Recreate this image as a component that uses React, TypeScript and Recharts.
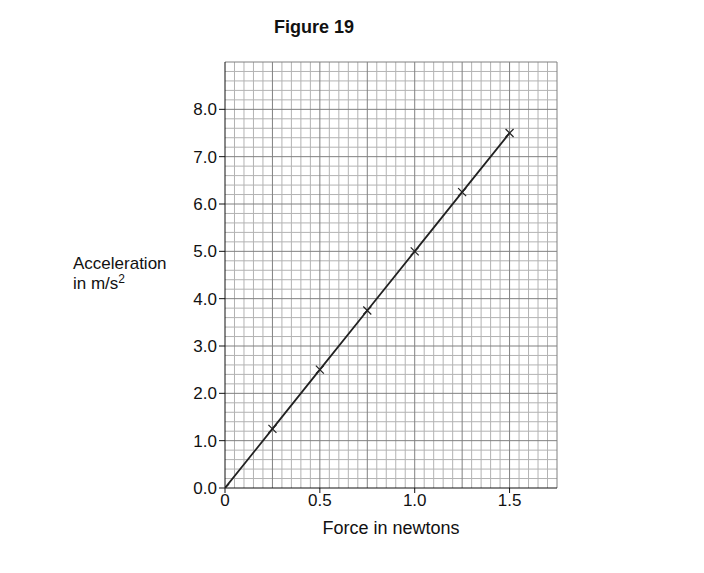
import { Line, LineChart, ReferenceLine, XAxis, YAxis } from "recharts";

const forces = [0, 0.25, 0.5, 0.75, 1.0, 1.25, 1.5];
const accelerations = [0, 1.25, 2.5, 3.75, 5.0, 6.25, 7.5];
const xTicks = [0, 0.5, 1.0, 1.5];
const yTicks = [0, 1, 2, 3, 4, 5, 6, 7, 8];

// graph paper: small squares of 0.05 N by 0.2 m/s2
const gridX = Array.from({ length: 36 }, (_, i) => Math.round(i * 5) / 100);
const gridY = Array.from({ length: 46 }, (_, i) => Math.round(i * 2) / 10);

const data = forces.map((f, i) => ({ force: f, acc: accelerations[i] }));

const font = "'Liberation Sans', Arial, sans-serif";

function Cross(props: any) {
    const { cx, cy } = props;
    if (cx == null || cy == null) return null;
    const s = 4;
    return (
        <path
            d={`M${cx - s},${cy - s}L${cx + s},${cy + s}M${cx - s},${cy + s}L${cx + s},${cy - s}`}
            stroke="#222"
            strokeWidth={1.2}
            fill="none"
        />
    );
}

export default function App() {
    return (
        <div style={{ position: "absolute", left: 0, top: 0, width: 704, height: 573, background: "#fff", fontFamily: font }}>
            <div style={{ position: "absolute", left: 0, width: 628, top: 17, textAlign: "center", fontWeight: "bold", fontSize: 18, color: "#111" }}>
                Figure 19
            </div>
            <div style={{ position: "absolute", left: 73, top: 254, fontSize: 17, lineHeight: "20px", color: "#111" }}>
                Acceleration
                <br />
                in m/s<sup style={{ fontSize: 12, verticalAlign: "6px", lineHeight: 0 }}>2</sup>
            </div>
            <div style={{ position: "absolute", left: 225, width: 332, top: 518, textAlign: "center", fontSize: 18, color: "#111" }}>
                Force in newtons
            </div>
            <LineChart
                width={704}
                height={573}
                data={data}
                margin={{ top: 62, right: 147, bottom: 55, left: 165 }}
                style={{ position: "absolute", left: 0, top: 0 }}
            >
                {gridX.filter((_, i) => i % 5 !== 0).map((v) => (
                    <ReferenceLine key={`mx${v}`} x={v} stroke="#b3b3b3" strokeWidth={1} />
                ))}
                {gridY.filter((_, i) => i % 5 !== 0).map((v) => (
                    <ReferenceLine key={`my${v}`} y={v} stroke="#b3b3b3" strokeWidth={1} />
                ))}
                {gridX.filter((_, i) => i % 5 === 0 && i > 0).map((v) => (
                    <ReferenceLine key={`vx${v}`} x={v} stroke="#808080" strokeWidth={1} />
                ))}
                {gridY.filter((_, i) => i % 5 === 0 && i > 0).map((v) => (
                    <ReferenceLine key={`hy${v}`} y={v} stroke="#808080" strokeWidth={1} />
                ))}
                <XAxis
                    dataKey="force"
                    type="number"
                    domain={[0, 1.75]}
                    ticks={xTicks}
                    tickFormatter={(v) => (v === 0 ? "0" : Number(v).toFixed(1))}
                    stroke="#111"
                    height={30}
                    tickSize={5}
                    tickMargin={1}
                    tick={{ fill: "#111", fontSize: 17, fontFamily: font }}
                    allowDataOverflow
                />
                <YAxis
                    type="number"
                    domain={[0, 9]}
                    ticks={yTicks}
                    tickFormatter={(v) => Number(v).toFixed(1)}
                    stroke="#111"
                    width={60}
                    tickSize={6}
                    tickMargin={2}
                    tick={{ fill: "#111", fontSize: 17, fontFamily: font }}
                    allowDataOverflow
                />
                <Line
                    dataKey="acc"
                    stroke="#222"
                    strokeWidth={1.8}
                    dot={<Cross />}
                    activeDot={false}
                    isAnimationActive={false}
                />
            </LineChart>
        </div>
    );
}
